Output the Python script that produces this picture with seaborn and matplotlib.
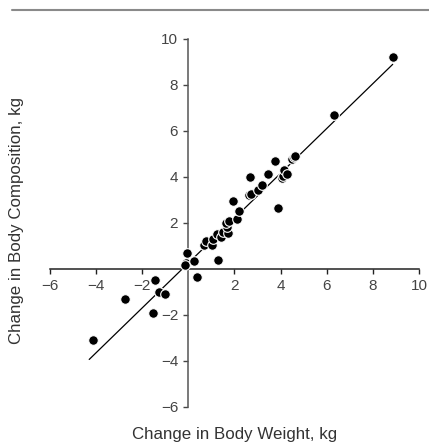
import numpy as np
import pandas as pd
import seaborn as sns
import matplotlib.pyplot as plt
from matplotlib.lines import Line2D

# ---- data ----
weight_change = [-4.12, -2.74, -1.43, -1.52, -1.27, -1.01, -0.10, -0.14, -0.05, 0.26,
                 0.39, 0.69, 0.78, 1.04, 1.08, 1.30, 1.25, 1.40, 1.49, 1.73,
                 1.66, 1.63, 1.77, 2.12, 2.19, 1.95, 2.64, 2.72, 2.67, 3.03,
                 3.18, 3.47, 3.77, 3.87, 4.05, 4.10, 4.16, 4.26, 4.48, 4.58,
                 4.64, 6.33, 8.89]
comp_change = [-3.10, -1.32, -0.48, -1.90, -1.00, -1.07, 0.25, 0.16, 0.71, 0.33,
               -0.33, 1.06, 1.22, 1.06, 1.29, 0.39, 1.52, 1.41, 1.62, 1.55,
               1.84, 2.01, 2.09, 2.16, 2.52, 2.97, 3.22, 3.28, 3.99, 3.43,
               3.65, 4.13, 4.68, 2.64, 3.94, 4.05, 4.30, 4.13, 4.77, 4.85,
               4.93, 6.68, 9.23]
fit_slope = 0.975
fit_intercept = 0.26
fit_range = [-4.3, 8.86]

x_ticks = [-6, -4, -2, 2, 4, 6, 8, 10]
y_ticks = [-6, -4, -2, 2, 4, 6, 8, 10]
x_label = "Change in Body Weight, kg"
y_label = "Change in Body Composition, kg"

# ---- plotting ----
sns.set_theme(style="ticks")
plt.rcParams['font.family'] = ['Liberation Sans', 'DejaVu Sans']

df = pd.DataFrame({"w": weight_change, "c": comp_change})
fit_x = np.array(fit_range)
fit_df = pd.DataFrame({"x": fit_x, "y": fit_slope * fit_x + fit_intercept})

fig = plt.figure(figsize=(4.29, 4.45), dpi=100)
ax = fig.add_axes([50 / 429, 38 / 445, 369 / 429, 368 / 445])

sns.lineplot(data=fit_df, x="x", y="y", color="black", linewidth=0.9, ax=ax)
sns.scatterplot(data=df, x="w", y="c", color="black", edgecolor="white",
                linewidth=0.8, s=48, ax=ax, zorder=3)

ax.set_xlim(-6, 10)
ax.set_ylim(-6, 10)
ax.spines['left'].set_position(('data', 0))
ax.spines['bottom'].set_position(('data', 0))
ax.spines['right'].set_visible(False)
ax.spines['top'].set_visible(False)
ax.spines['left'].set_color('#555555')
ax.spines['bottom'].set_color('#222222')
ax.spines['left'].set_linewidth(1.1)
ax.spines['bottom'].set_linewidth(1.1)

ax.set_xticks(x_ticks)
ax.set_yticks(y_ticks)
ax.tick_params(axis='both', direction='out', length=3.8, width=1.0,
               color='#444444', labelcolor='#444444', labelsize=11, pad=3.5)
ax.tick_params(axis='x', color='#222222')

ax.set_xlabel(x_label, fontsize=12.2, color='#333333')
ax.set_ylabel(y_label, fontsize=12.2, color='#333333')
ax.xaxis.set_label_coords(0.5, -0.055)
ax.yaxis.set_label_coords(-0.092, 0.508)
ax.yaxis.label.set_verticalalignment('center')

fig.add_artist(Line2D([12 / 429, 1.0], [1 - 10 / 445, 1 - 10 / 445],
                      transform=fig.transFigure, color='#8a8a8a', linewidth=1.5))

fig.savefig("out.png", dpi=100)
